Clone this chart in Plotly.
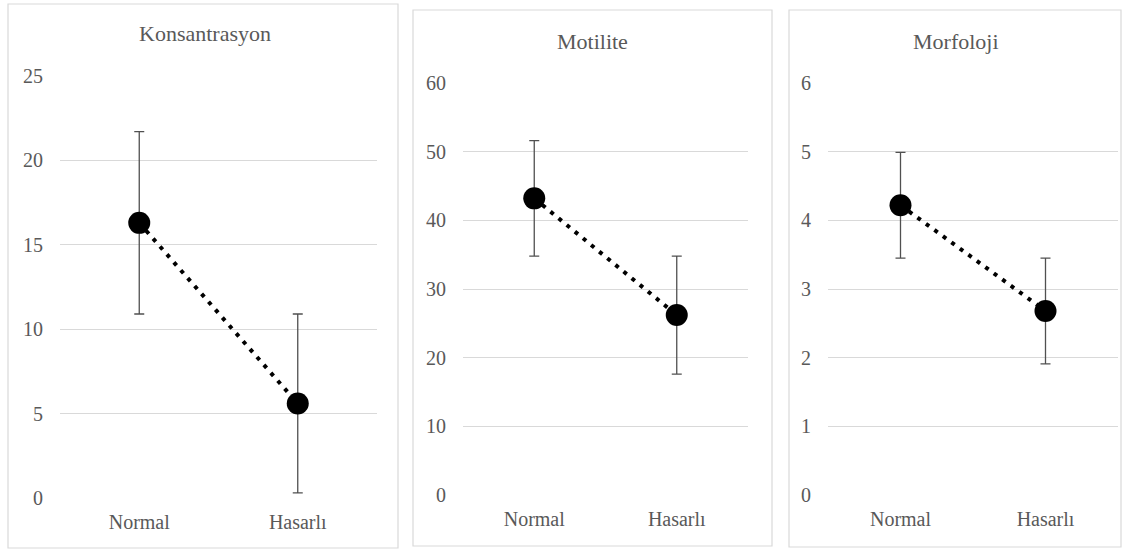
import plotly.graph_objects as go

W, H = 1123, 551

categories = ["Normal", "Hasarlı"]
titles = ["Konsantrasyon", "Motilite", "Morfoloji"]

kons_mean = [16.3, 5.6]
kons_err = [5.4, 5.3]
mot_mean = [43.2, 26.2]
mot_err = [8.4, 8.6]
morf_mean = [4.22, 2.68]
morf_err = [0.77, 0.77]

y_ranges = [[0, 25], [0, 60], [0, 6]]
y_dticks = [5, 10, 1]

means = [kons_mean, mot_mean, morf_mean]
errs = [kons_err, mot_err, morf_err]

# panel layout in pixels
plots = [(60, 377, 76, 498), (463, 748, 83, 495), (828, 1118, 83, 495)]
boxes = [(8, 4, 398, 548), (413, 10, 772, 546), (789, 10, 1121, 547)]
title_pos = [(205, 34), (592, 41), (956, 41)]


def px(x):
    return x / W


def py(y):
    return 1 - y / H


fig = go.Figure()
font_family = "Liberation Serif, Times New Roman, DejaVu Serif, serif"
txt_color = "#595959"

for i in range(3):
    xa = "x" if i == 0 else f"x{i+1}"
    ya = "y" if i == 0 else f"y{i+1}"
    fig.add_trace(go.Scatter(
        x=categories, y=means[i], xaxis=xa, yaxis=ya,
        mode="lines+markers",
        line=dict(color="black", width=4, dash="4px,6.5px"),
        marker=dict(color="black", size=22),
        error_y=dict(type="data", array=errs[i], visible=True,
                     color="#505050", thickness=1.3, width=5),
        showlegend=False, hoverinfo="skip",
    ))
    x0, x1, yt, yb = plots[i]
    xkey = "xaxis" if i == 0 else f"xaxis{i+1}"
    ykey = "yaxis" if i == 0 else f"yaxis{i+1}"
    fig.update_layout(**{
        xkey: dict(domain=[px(x0), px(x1)], anchor=ya, type="category",
                   range=[-0.5, 1.5], showgrid=False, zeroline=False,
                   showline=False, ticks="", ticklabelstandoff=10,
                   automargin=False,
                   tickfont=dict(family=font_family, size=20, color=txt_color)),
        ykey: dict(domain=[py(yb), py(yt)], anchor=xa, range=y_ranges[i],
                   dtick=y_dticks[i], showgrid=True, gridcolor="#d9d9d9",
                   gridwidth=1.2, zeroline=False, showline=False, ticks="",
                   ticklabelstandoff=16, automargin=False,
                   tickfont=dict(family=font_family, size=20, color=txt_color)),
    })
    bx0, by0, bx1, by1 = boxes[i]
    fig.add_shape(type="rect", xref="paper", yref="paper",
                  x0=px(bx0), x1=px(bx1), y0=py(by1), y1=py(by0),
                  line=dict(color="#d9d9d9", width=1.2), layer="below")
    tx, ty = title_pos[i]
    fig.add_annotation(text=titles[i], xref="paper", yref="paper",
                       x=px(tx), y=py(ty), showarrow=False,
                       xanchor="center", yanchor="middle",
                       font=dict(family=font_family, size=22, color=txt_color))

fig.update_layout(width=W, height=H, margin=dict(l=0, r=0, t=0, b=0),
                  paper_bgcolor="white", plot_bgcolor="white")

fig.write_html("out.html", config={"displayModeBar": False},
               post_script="document.body.style.margin='0';document.body.style.overflow='hidden';")
